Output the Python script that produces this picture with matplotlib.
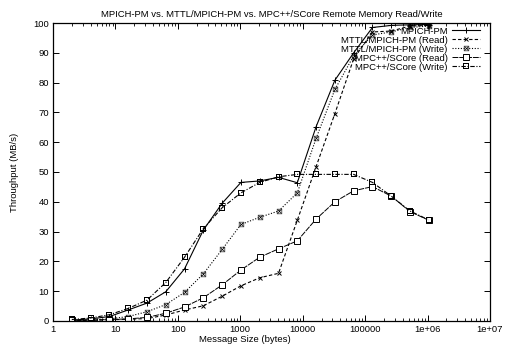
import matplotlib
matplotlib.use("Agg")
import matplotlib.pyplot as plt
from matplotlib.ticker import FixedLocator, NullFormatter, LogLocator

# message sizes 2^1 .. 2^20 bytes
sizes = [2 ** k for k in range(1, 21)]

mpich_pm = [0.3, 0.7, 1.5, 3.7, 6.0, 9.8, 17.5, 30.5, 39.5, 46.5, 47.0, 48.2, 46.4,
            65.2, 80.8, 90.0, 98.5, 99.2, 99.4, 99.5]
mttl_read = [0.1, 0.2, 0.4, 0.6, 0.8, 2.0, 3.7, 5.1, 8.3, 11.8, 14.5, 16.0, 33.8,
             51.8, 69.6, 88.0, 97.0, 97.3, 99.0, 99.2]
mttl_write = [0.1, 0.3, 0.7, 1.5, 3.1, 5.5, 9.6, 15.8, 24.0, 32.4, 34.8, 36.9, 43.0,
              61.3, 77.7, 89.0, 96.0, 97.0, 98.5, 99.0]
mpc_read = [0.2, 0.3, 0.5, 0.7, 1.2, 2.6, 4.7, 7.8, 12.1, 17.1, 21.4, 24.2, 26.9,
            34.2, 40.0, 43.7, 45.1, 41.9, 36.7, 33.8]
mpc_write = [0.5, 1.0, 2.1, 4.2, 7.0, 12.9, 21.4, 31.0, 38.0, 43.0, 46.5, 48.4, 49.2,
             49.2, 49.2, 49.2, 46.5, 41.9, 36.9, 33.9]

xtick_vals = [1, 10, 100, 1000, 10000, 100000, 1e6, 1e7]
xtick_labels = ["1", "10", "100", "1000", "10000", "100000", "1e+06", "1e+07"]
ytick_vals = list(range(0, 101, 10))

plt.rcParams['font.family'] = ['Liberation Sans', 'DejaVu Sans']
plt.rcParams['font.size'] = 6.8

fig = plt.figure(figsize=(5.16, 3.45), dpi=100)
ax = fig.add_axes([0.1027, 0.0696, 0.8469, 0.8637])

lw = 0.8
ax.plot(sizes, mpich_pm, color='black', lw=lw, ls='-', marker='+', ms=4,
        mew=0.7, label='MPICH-PM')
ax.plot(sizes, mttl_read, color='black', lw=lw, ls=(0, (3, 2)), marker='x', ms=3.2,
        mew=0.7, label='MTTL/MPICH-PM (Read)')
ax.plot(sizes, mttl_write, color='black', lw=lw, ls=(0, (1, 1.5)), marker='$\\boxtimes$',
        ms=3.8, mew=0, label='MTTL/MPICH-PM (Write)')
ax.plot(sizes, mpc_read, color='black', lw=0.7, ls=(0, (6, 1)), marker='s', ms=4,
        mfc='white', mew=0.7, label='MPC++/SCore (Read)')
ax.plot(sizes, mpc_write, color='black', lw=lw, ls=(0, (4, 1.5, 1, 1.5)), marker='$\\boxdot$',
        ms=4.2, mew=0, label='MPC++/SCore (Write)')

ax.set_xscale('log')
ax.set_xlim(1, 1e7)
ax.set_ylim(0, 100)
ax.xaxis.set_major_locator(FixedLocator(xtick_vals))
ax.set_xticklabels(xtick_labels)
ax.xaxis.set_minor_locator(LogLocator(base=10, subs=range(2, 10), numticks=20))
ax.xaxis.set_minor_formatter(NullFormatter())
ax.set_yticks(ytick_vals)

ax.tick_params(which='both', direction='in', top=True, right=True, color='black')
ax.tick_params(which='major', length=4, width=0.7, pad=3)
ax.tick_params(which='minor', length=2, width=0.6)
for s in ax.spines.values():
    s.set_linewidth(0.9)

ax.set_xlabel('Message Size (bytes)')
ax.xaxis.set_label_coords(0.44, -0.048)
ax.set_ylabel('Throughput (MB/s)', labelpad=10)
ax.set_title('MPICH-PM vs. MTTL/MPICH-PM vs. MPC++/SCore Remote Memory Read/Write',
             fontsize=6.8, pad=4)

leg = ax.legend(loc='upper right', frameon=False, markerfirst=False, fontsize=6.8,
                handlelength=2.9, labelspacing=0.0, borderaxespad=0.0,
                handletextpad=0.5, bbox_to_anchor=(0.985, 1.0))
for t in leg.get_texts():
    t.set_ha('right')
leg._legend_box.align = 'right'

fig.savefig('out.png', dpi=100)
